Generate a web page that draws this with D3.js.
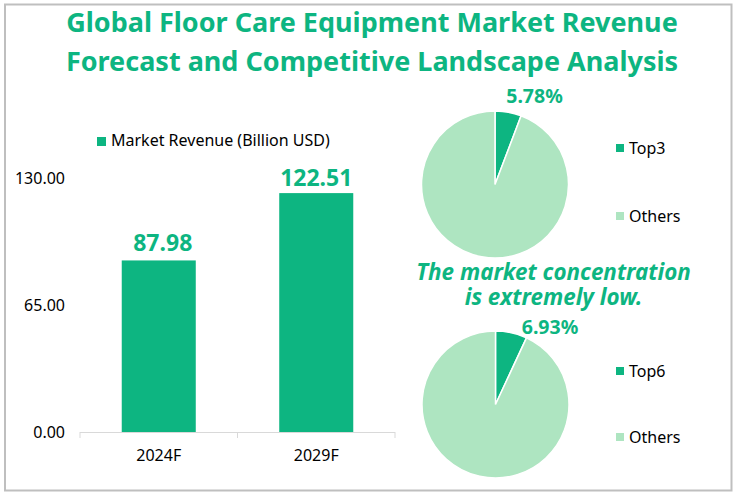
<!DOCTYPE html>
<html>
<head>
<meta charset="utf-8">
<script src="https://cdn.jsdelivr.net/npm/d3@7"></script>
<style>
    html, body { margin: 0; padding: 0; background: #fff; }
    text { font-family: "Noto Sans", "Open Sans", sans-serif; }
</style>
</head>
<body>
<div class="chart"></div>
<script>
const titleLines = ['Global Floor Care Equipment Market Revenue', 'Forecast and Competitive Landscape Analysis'];
const noteLines = ['The market concentration', 'is extremely low.'];
const years = ['2024F', '2029F'];
const revenue = [87.98, 122.51];
const revenueTicks = [0, 65, 130];
const pieNames1 = ['Top3', 'Others'];
const pieValues1 = [5.78, 94.22];
const pieNames2 = ['Top6', 'Others'];
const pieValues2 = [6.93, 93.07];

const green = '#0DB581';
const lightGreen = '#AEE5C1';
const fullWidth = 737;
const fullHeight = 494;

const svg = d3.select('.chart')
    .append('svg')
        .attr('width', fullWidth)
        .attr('height', fullHeight)
        .style('display', 'block');

// outer frame
svg.append('rect')
    .attr('x', 5)
    .attr('y', 4.5)
    .attr('width', 726.5)
    .attr('height', 486)
    .attr('fill', '#fff')
    .attr('stroke', '#BFBFBF')
    .attr('stroke-width', 2);

svg.append('g').selectAll('text')
    .data(titleLines)
    .enter()
    .append('text')
    .attr('x', 372)
    .attr('y', (d, i) => 32 + i * 39)
    .attr('text-anchor', 'middle')
    .attr('font-size', 27)
    .attr('font-weight', 700)
    .attr('fill', green)
    .text(d => d);

/////////////////////////
// bar chart

const xScale = d3.scaleBand()
    .domain(years)
    .range([80, 395])
    .paddingInner(0.53)
    .paddingOuter(0.265);

const yScale = d3.scaleLinear()
    .domain([0, 130])
    .range([432, 178.5]);

svg.selectAll('rect.bar')
    .data(revenue)
    .enter()
    .append('rect')
    .attr('class', 'bar')
    .attr('x', (d, i) => xScale(years[i]))
    .attr('y', d => yScale(d))
    .attr('width', xScale.bandwidth())
    .attr('height', d => yScale(0) - yScale(d))
    .attr('fill', green);

// the first label sits a little off its bar in the original
const barLabelShift = [[4, -9.5], [0, -7]];
svg.selectAll('text.barLabel')
    .data(revenue)
    .enter()
    .append('text')
    .attr('class', 'barLabel')
    .attr('x', (d, i) => xScale(years[i]) + xScale.bandwidth() / 2 + barLabelShift[i][0])
    .attr('y', (d, i) => yScale(d) + barLabelShift[i][1])
    .attr('text-anchor', 'middle')
    .attr('font-size', 23)
    .attr('font-weight', 700)
    .attr('fill', green)
    .text(d => d3.format('.2f')(d));

const yAxis = d3.axisLeft(yScale)
    .tickValues(revenueTicks)
    .tickFormat(d3.format('.2f'))
    .tickSize(0)
    .tickPadding(15);
const yAxisG = svg.append('g')
    .attr('transform', 'translate(80, 0)')
    .call(yAxis);
yAxisG.select('.domain').remove();
yAxisG.selectAll('text')
    .attr('font-family', null)
    .attr('font-size', 16)
    .attr('fill', '#000');

// category axis ticks sit between the bars, so a band axis can't draw them
const xTickPos = [80, 237.5, 395];
const xAxisG = svg.append('g');
xAxisG.append('line')
    .attr('x1', 80)
    .attr('x2', 395)
    .attr('y1', 432.5)
    .attr('y2', 432.5)
    .attr('stroke', '#D9D9D9');
xAxisG.selectAll('line.tick')
    .data(xTickPos)
    .enter()
    .append('line')
    .attr('class', 'tick')
    .attr('x1', d => d)
    .attr('x2', d => d)
    .attr('y1', 432)
    .attr('y2', 438)
    .attr('stroke', '#D9D9D9');
xAxisG.selectAll('text')
    .data(years)
    .enter()
    .append('text')
    .attr('x', d => xScale(d) + xScale.bandwidth() / 2)
    .attr('y', 461)
    .attr('text-anchor', 'middle')
    .attr('font-size', 16)
    .attr('fill', '#000')
    .text(d => d);

svg.append('rect')
    .attr('x', 97)
    .attr('y', 137)
    .attr('width', 9)
    .attr('height', 9)
    .attr('fill', green);
svg.append('text')
    .attr('x', 111)
    .attr('y', 146)
    .attr('font-size', 16)
    .attr('fill', '#000')
    .text('Market Revenue (Billion USD)');

/////////////////////////
// pies

const pieColor = [green, lightGreen];
const pieGen = d3.pie().sort(null);
const arcGen = d3.arc().innerRadius(0).outerRadius(73.5);

drawPie(495, 184.5, pieValues1, pieNames1, [148, 216], 534.5, 103);
drawPie(495.5, 404.5, pieValues2, pieNames2, [371, 437], 550, 334);

function drawPie(cx, cy, values, names, legendY, labelX, labelY) {
    const g = svg.append('g').attr('transform', `translate(${cx}, ${cy})`);
    g.selectAll('path')
        .data(pieGen(values))
        .enter()
        .append('path')
        .attr('d', arcGen)
        .attr('fill', (d, i) => pieColor[i])
        .attr('stroke', '#fff')
        .attr('stroke-width', 1.5);

    svg.append('text')
        .attr('x', labelX)
        .attr('y', labelY)
        .attr('text-anchor', 'middle')
        .attr('font-size', 19.5)
        .attr('font-weight', 700)
        .attr('fill', green)
        .text(d3.format('.2f')(values[0]) + '%');

    names.forEach((name, i) => {
        svg.append('rect')
            .attr('x', 616)
            .attr('y', legendY[i] - 4)
            .attr('width', 8)
            .attr('height', 8)
            .attr('fill', pieColor[i]);
        svg.append('text')
            .attr('x', 629)
            .attr('y', legendY[i] + 5.5)
            .attr('font-size', 16)
            .attr('fill', '#000')
            .text(name);
    });
}

svg.append('g').selectAll('text')
    .data(noteLines)
    .enter()
    .append('text')
    .attr('x', 553.5)
    .attr('y', (d, i) => 280 + i * 25)
    .attr('text-anchor', 'middle')
    .attr('font-size', 22.4)
    .attr('font-weight', 700)
    .attr('font-style', 'italic')
    .attr('fill', green)
    .text(d => d);
</script>
</body>
</html>
